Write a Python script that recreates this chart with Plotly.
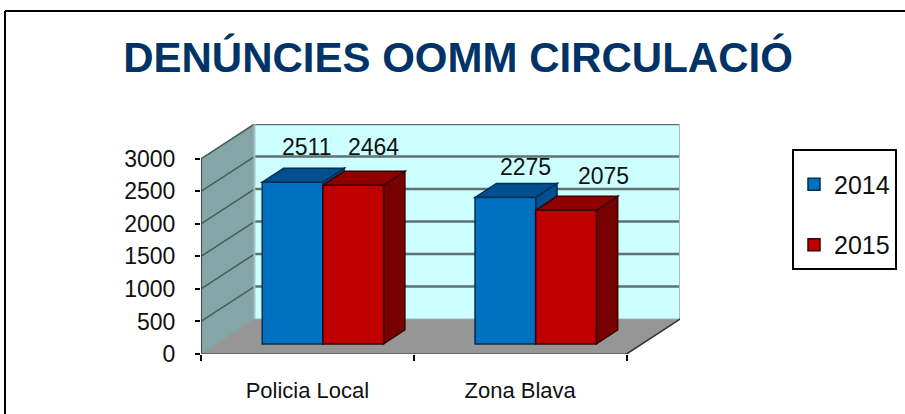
import plotly.graph_objects as go

categories = ["Policia Local", "Zona Blava"]
series_2014 = [2511, 2275]
series_2015 = [2464, 2075]
y_ticks = [0, 500, 1000, 1500, 2000, 2500, 3000]
title_text = "DENÚNCIES OOMM CIRCULACIÓ"

# Oblique projection: how far the full chart depth moves a point
DX, DY = 0.251, 536
Y_TOP = 3000
BAR_D0, BAR_DEPTH = 0.29, 0.4
BAR_W = 0.285
BAR_SCALE = 0.99
W, H = 905, 414
L, T, PW, PH = 201, 124, 479, 230
FONT = "Liberation Sans"

def proj(x, v, d):
    return x + d * DX, v + d * DY

def path(points):
    return "M" + " L".join(f"{x},{y}" for x, y in points) + " Z"

fig = go.Figure()

def poly(points, fill, line=None, width=1):
    fig.add_shape(type="path", path=path(points), xref="x", yref="y", layer="below",
                  fillcolor=fill, line=dict(color=line or fill, width=width))

def seg(a, b, color, width):
    fig.add_shape(type="line", x0=a[0], y0=a[1], x1=b[0], y1=b[1], xref="x", yref="y",
                  layer="below", line=dict(color=color, width=width))

n = len(categories)
# walls and floor
poly([proj(0, 0, 1), proj(n, 0, 1), proj(n, Y_TOP, 1), proj(0, Y_TOP, 1)], "#CCFFFF")
poly([proj(0, 0, 0), proj(0, 0, 1), proj(0, Y_TOP, 1), proj(0, Y_TOP, 0)], "#84A6A6")
poly([proj(0, 0, 0), proj(n, 0, 0), proj(n, 0, 1), proj(0, 0, 1)], "#969696")
# gridlines
for t in y_ticks[1:]:
    seg(proj(0, t, 0), proj(0, t, 1), "#4A5A5A", 1.5)
    seg(proj(0, t, 1), proj(n, t, 1), "#5F7272", 2.5)
seg(proj(n, 0, 1), proj(n, Y_TOP, 1), "#A8BDBD", 2)
seg(proj(0, 0, 1), proj(0, Y_TOP, 1), "#A8BDBD", 2)
seg(proj(0, 0, 0), proj(0, Y_TOP, 0), "#444444", 2)
seg(proj(0, 0, 0), proj(n, 0, 0), "#555555", 1.5)
seg(proj(n, 0, 0), proj(n, 0, 1), "#333333", 1.5)

def depth_faces(xc, value, top_col, side_col, line):
    x0, x1 = xc - BAR_W / 2, xc + BAR_W / 2
    base = BAR_D0 * DY
    top = base + value * BAR_SCALE
    dx, dy = BAR_DEPTH * DX, BAR_DEPTH * DY
    poly([(x1, base), (x1 + dx, base + dy), (x1 + dx, top + dy), (x1, top)], side_col, line, 1.5)
    poly([(x0, top), (x1, top), (x1 + dx, top + dy), (x0 + dx, top + dy)], top_col, line, 1.5)

centers = [i + 0.5 + BAR_D0 * DX for i in range(n)]
x14 = [c - BAR_W / 2 for c in centers]
x15 = [c + BAR_W / 2 for c in centers]
for i in range(n):
    depth_faces(x14[i], series_2014[i], "#004F8F", "#004F8F", "#002E55")
    depth_faces(x15[i], series_2015[i], "#8F0000", "#770000", "#3A0000")

base_v = BAR_D0 * DY
fig.add_bar(name="2014", x=x14, y=[v * BAR_SCALE for v in series_2014], base=base_v, width=BAR_W,
            marker=dict(color="#0070C0", line=dict(color="#002E55", width=1.5)), legendgroup="a")
fig.add_bar(name="2015", x=x15, y=[v * BAR_SCALE for v in series_2015], base=base_v, width=BAR_W,
            marker=dict(color="#C00000", line=dict(color="#3A0000", width=1.5)), legendgroup="b")

# value labels, sitting above the depth of each bar
label_shift = {"2014": [(14, 35), (20, 30)], "2015": [(20, 38), (37, 34)]}
for name, xs, vals in (("2014", x14, series_2014), ("2015", x15, series_2015)):
    for i, v in enumerate(vals):
        fig.add_annotation(x=xs[i], y=base_v + v * BAR_SCALE, text=str(v), showarrow=False,
                           xshift=label_shift[name][i][0], yshift=label_shift[name][i][1],
                           font=dict(family=FONT, size=23, color="#111111"))

# outer frame (open at right and bottom)
fig.add_shape(type="line", xref="paper", yref="paper", x0=(5 - L) / PW, x1=(W - L) / PW,
              y0=(T + PH - 11) / PH, y1=(T + PH - 11) / PH, line=dict(color="black", width=2))
fig.add_shape(type="line", xref="paper", yref="paper", x0=(5 - L) / PW, x1=(5 - L) / PW,
              y0=(T + PH - 11) / PH, y1=(T + PH - H) / PH, line=dict(color="black", width=2))

fig.update_layout(
    width=W, height=H, autosize=False,
    margin=dict(l=L, r=W - L - PW, t=T, b=H - T - PH, pad=0, autoexpand=False),
    paper_bgcolor="white", plot_bgcolor="white",
    barmode="overlay", showlegend=True, hovermode=False,
    font=dict(family=FONT, color="#111111"),
    title=dict(text=f"<b>{title_text}</b>", x=458 / W, xanchor="center", y=1 - 57 / H, yanchor="middle",
               font=dict(family=FONT, size=42, color="#003366")),
    legend=dict(x=(792 - L) / PW, xanchor="left", y=(T + PH - 149) / PH, yanchor="top",
                bgcolor="white", bordercolor="black", borderwidth=2,
                title=dict(text=" ", font=dict(family=FONT, size=8)),
                font=dict(family=FONT, size=25), tracegroupgap=25, entrywidth=73, entrywidthmode="pixels",
                itemclick=False, itemdoubleclick=False),
    xaxis=dict(range=[0, n + DX], tickvals=[i + 0.5 for i in range(n)], ticktext=categories,
               ticks="outside", ticklen=0, showgrid=False, zeroline=False, showline=False,
               automargin=False,
               ticklabelstandoff=17, tickfont=dict(family=FONT, size=22),
               minor=dict(tickvals=list(range(n + 1)), ticks="outside", ticklen=6, tickcolor="black",
                          tickwidth=1.5, showgrid=False)),
    yaxis=dict(range=[0, Y_TOP + DY], tickvals=y_ticks, ticks="outside", ticklen=5, tickcolor="black",
               automargin=False,
               tickwidth=1.5, showgrid=False, zeroline=False, showline=False, ticklabelstandoff=15,
               tickfont=dict(family=FONT, size=23)),
)
fig.write_html("out.html", config=dict(displayModeBar=False),
               post_script="document.body.style.margin='0';document.body.style.overflow='hidden';")
